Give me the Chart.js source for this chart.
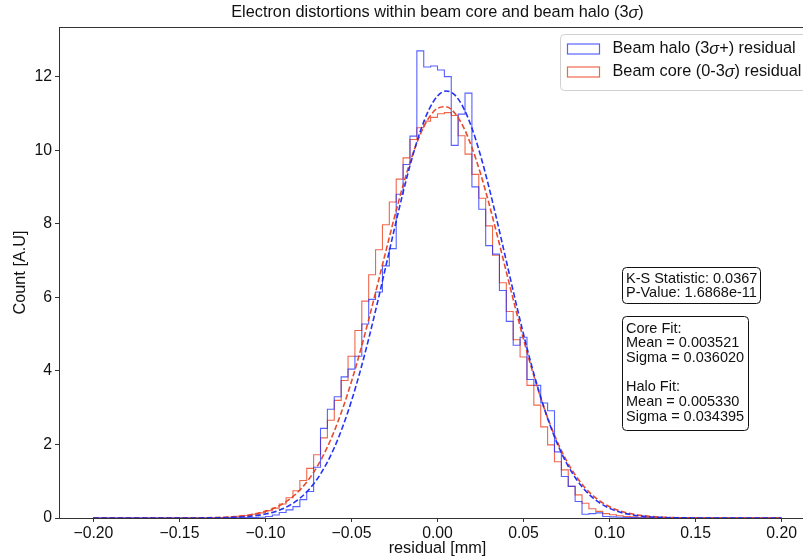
<!DOCTYPE html>
<html>
<head>
<meta charset="utf-8">
<script src="https://cdn.jsdelivr.net/npm/chart.js@4.4.1/dist/chart.umd.min.js"></script>
<style>
  html, body { margin: 0; padding: 0; background: #fff; overflow: hidden; }
  #wrap { width: 820px; height: 558px; }
</style>
</head>
<body>
<div id="wrap"><canvas id="chart" width="820" height="558"></canvas></div>
<script>
// Histogram bins (density), width 0.004, first left edge at -0.132
const binStart = -0.132;
const binWidth = 0.004;

const haloCounts = [
  0, 0, 0.002, 0.003, 0.005, 0.007, 0.010, 0.015, 0.020, 0.04,
  0.08, 0.15, 0.22, 0.31, 0.50, 0.72, 1.38, 2.44, 2.96, 3.30,
  3.84, 4.05, 4.40, 5.28, 5.95, 6.15, 6.86, 7.33, 8.81, 9.62,
  10.39, 12.71, 12.27, 12.30, 12.19, 12.01, 10.14, 10.99, 11.56, 9.01,
  8.40, 7.41, 7.18, 6.19, 5.35, 4.70, 4.92, 3.77, 3.61, 3.13,
  2.92, 1.80, 1.13, 0.86, 0.45, 0.10, 0.12, 0.14, 0.04, 0.03,
  0.02, 0.01, 0.01, 0.005, 0, 0
];

const coreCounts = [
  0.005, 0.008, 0.012, 0.02, 0.03, 0.05, 0.07, 0.10, 0.14, 0.20,
  0.27, 0.38, 0.55, 0.74, 1.02, 1.35, 1.72, 2.18, 2.66, 3.20,
  3.74, 4.40, 5.10, 5.90, 6.62, 7.30, 7.98, 8.60, 9.22, 9.80,
  10.30, 10.62, 10.80, 10.90, 11.00, 11.03, 10.95, 10.40, 9.90, 9.35,
  8.70, 7.95, 7.15, 6.40, 5.62, 4.85, 4.38, 3.61, 3.07, 2.48,
  1.99, 1.53, 1.31, 0.86, 0.63, 0.40, 0.25, 0.18, 0.12, 0.09,
  0.06, 0.04, 0.03, 0.02, 0.01, 0.01
];

// Gaussian fit curves
const fitX = [
  -0.20, -0.19, -0.18, -0.17, -0.16, -0.15, -0.14, -0.13, -0.12, -0.11,
  -0.100, -0.095, -0.090, -0.085, -0.080, -0.075, -0.070, -0.065, -0.060, -0.055,
  -0.050, -0.045, -0.040, -0.035, -0.030, -0.025, -0.020, -0.015, -0.010, -0.005,
  0.000, 0.005, 0.010, 0.015, 0.020, 0.025, 0.030, 0.035, 0.040, 0.045,
  0.050, 0.055, 0.060, 0.065, 0.070, 0.075, 0.080, 0.085, 0.090, 0.095,
  0.100, 0.105,
  0.11, 0.12, 0.13, 0.14, 0.15, 0.16, 0.17, 0.18, 0.19, 0.20
];

const haloFit = [
  0, 0, 0, 0.00002, 0.0001, 0.0004, 0.0015, 0.005, 0.015, 0.042,
  0.107, 0.165, 0.249, 0.370, 0.536, 0.760, 1.056, 1.436, 1.912, 2.496,
  3.186, 3.983, 4.875, 5.842, 6.856, 7.877, 8.860, 9.757, 10.522, 11.108,
  11.481, 11.62, 11.513, 11.169, 10.609, 9.868, 8.984, 8.010, 6.992, 5.975,
  5.000, 4.096, 3.286, 2.581, 1.983, 1.493, 1.101, 0.795, 0.561, 0.389,
  0.263, 0.174,
  0.113, 0.045, 0.016, 0.005, 0.0015, 0.0004, 0.0001, 0, 0, 0
];

const coreFit = [
  0, 0.00001, 0.00003, 0.0001, 0.0004, 0.0013, 0.004, 0.0115, 0.031, 0.078,
  0.180, 0.265, 0.384, 0.546, 0.760, 1.039, 1.394, 1.833, 2.363, 2.991,
  3.713, 4.520, 5.398, 6.322, 7.265, 8.187, 9.052, 9.815, 10.440, 10.892,
  11.147, 11.190, 11.018, 10.643, 10.083, 9.371, 8.542, 7.637, 6.700, 5.764,
  4.864, 4.025, 3.268, 2.603, 2.034, 1.558, 1.172, 0.864, 0.625, 0.443,
  0.308, 0.210,
  0.141, 0.060, 0.023, 0.0085, 0.0028, 0.0008, 0.0002, 0.00005, 0.00001, 0
];

const xTicks = [-0.20, -0.15, -0.10, -0.05, 0.00, 0.05, 0.10, 0.15, 0.20];
const yTicks = [0, 2, 4, 6, 8, 10, 12];

const ksLines = ['K-S Statistic: 0.0367', 'P-Value: 1.6868e-11'];
const fitLines = ['Core Fit:', 'Mean = 0.003521', 'Sigma = 0.036020', '', 'Halo Fit:', 'Mean = 0.005330', 'Sigma = 0.034395'];

const FONT = '"Liberation Sans", Arial, Helvetica, sans-serif';
const TXT = '#111';
const HALO = 'rgba(30,45,255,0.75)';
const CORE = 'rgba(235,65,30,0.8)';

function stepPoints(counts) {
  const pts = [{ x: -0.2, y: 0 }];
  counts.forEach((c, i) => pts.push({ x: +(binStart + i * binWidth).toFixed(3), y: c }));
  pts.push({ x: +(binStart + counts.length * binWidth).toFixed(3), y: 0 });
  pts.push({ x: 0.2, y: 0 });
  return pts;
}

function curvePoints(ys) {
  return fitX.map((x, i) => ({ x: x, y: ys[i] }));
}

// draw text where the sigma is italic
function richText(ctx, str, x, y, size, align) {
  const parts = str.split(/(σ)/).filter(p => p.length);
  const fontOf = p => (p === 'σ' ? 'italic ' : '') + size + 'px ' + FONT;
  let total = 0;
  parts.forEach(p => { ctx.font = fontOf(p); total += ctx.measureText(p).width; });
  let cx = align === 'center' ? x - total / 2 : x;
  ctx.textAlign = 'left';
  parts.forEach(p => {
    ctx.font = fontOf(p);
    ctx.fillText(p, cx, y);
    cx += ctx.measureText(p).width;
  });
}

function roundBox(ctx, x, y, w, h, r) {
  ctx.beginPath();
  ctx.moveTo(x + r, y);
  ctx.lineTo(x + w - r, y);
  ctx.arcTo(x + w, y, x + w, y + r, r);
  ctx.lineTo(x + w, y + h - r);
  ctx.arcTo(x + w, y + h, x + w - r, y + h, r);
  ctx.lineTo(x + r, y + h);
  ctx.arcTo(x, y + h, x, y + h - r, r);
  ctx.lineTo(x, y + r);
  ctx.arcTo(x, y, x + r, y, r);
  ctx.closePath();
}

const decorations = {
  id: 'decorations',
  afterDraw(chart) {
    const ctx = chart.ctx;
    const a = chart.chartArea;
    ctx.save();

    // axes frame
    ctx.strokeStyle = '#333';
    ctx.lineWidth = 1;
    ctx.strokeRect(a.left + 0.5, a.top + 0.5, a.right - a.left, a.bottom - a.top);

    ctx.fillStyle = TXT;
    ctx.textBaseline = 'middle';

    // title
    richText(ctx, 'Electron distortions within beam core and beam halo (3σ)', (a.left + a.right) / 2, 13, 16.3, 'center');

    // axis labels
    ctx.font = '16.3px ' + FONT;
    ctx.textAlign = 'center';
    ctx.fillText('residual [mm]', (a.left + a.right) / 2, 549);
    ctx.save();
    ctx.translate(21, (a.top + a.bottom) / 2);
    ctx.rotate(-Math.PI / 2);
    ctx.fillText('Count [A.U]', 0, 0);
    ctx.restore();

    // legend
    roundBox(ctx, 560.5, 34.5, 252, 56, 4);
    ctx.fillStyle = 'rgba(255,255,255,0.85)';
    ctx.fill();
    ctx.strokeStyle = '#d0d0d0';
    ctx.stroke();
    const legend = [
      { label: 'Beam halo (3σ+) residual', color: HALO, y: 49 },
      { label: 'Beam core (0-3σ) residual', color: CORE, y: 72 }
    ];
    legend.forEach(item => {
      ctx.strokeStyle = item.color;
      ctx.lineWidth = 1.2;
      ctx.strokeRect(567.5, item.y - 5, 32, 10);
      ctx.fillStyle = TXT;
      richText(ctx, item.label, 612.5, item.y, 16.3, 'left');
    });

    // statistic boxes
    ctx.strokeStyle = '#111';
    ctx.lineWidth = 1;
    roundBox(ctx, 622.5, 267.5, 138, 36, 4);
    ctx.fillStyle = '#fff';
    ctx.fill();
    ctx.stroke();
    roundBox(ctx, 622.5, 316.5, 126, 114, 4);
    ctx.fill();
    ctx.stroke();

    ctx.fillStyle = TXT;
    ctx.font = '14.5px ' + FONT;
    ctx.textAlign = 'left';
    ksLines.forEach((t, i) => ctx.fillText(t, 626, 278.5 + i * 14.7));
    fitLines.forEach((t, i) => { if (t) ctx.fillText(t, 626, 328.5 + i * 14.7); });

    ctx.restore();
  }
};

new Chart(document.getElementById('chart'), {
  type: 'line',
  data: {
    datasets: [
      {
        label: 'Halo fit',
        data: curvePoints(haloFit),
        borderColor: 'rgba(25,40,245,0.95)',
        borderWidth: 1.6,
        borderDash: [5.5, 2.6],
        pointRadius: 0,
        cubicInterpolationMode: 'monotone',
        fill: false
      },
      {
        label: 'Core fit',
        data: curvePoints(coreFit),
        borderColor: 'rgba(230,65,35,0.95)',
        borderWidth: 1.6,
        borderDash: [5.5, 2.6],
        pointRadius: 0,
        cubicInterpolationMode: 'monotone',
        fill: false
      },
      {
        label: 'Beam halo (3σ+) residual',
        data: stepPoints(haloCounts),
        borderColor: HALO,
        borderWidth: 1.1,
        stepped: 'after',
        pointRadius: 0,
        fill: false
      },
      {
        label: 'Beam core (0-3σ) residual',
        data: stepPoints(coreCounts),
        borderColor: CORE,
        borderWidth: 1.1,
        stepped: 'after',
        pointRadius: 0,
        fill: false
      }
    ]
  },
  options: {
    responsive: false,
    animation: false,
    layout: { padding: { top: 27, right: 4, left: 0, bottom: 0 } },
    plugins: {
      legend: { display: false },
      title: { display: false },
      tooltip: { enabled: false }
    },
    scales: {
      x: {
        type: 'linear',
        min: -0.22,
        max: 0.22,
        afterBuildTicks: s => { s.ticks = xTicks.map(v => ({ value: v })); },
        afterFit: s => { s.height = 40; },
        border: { display: false },
        grid: { drawOnChartArea: false, drawTicks: true, tickLength: 4, color: '#333' },
        ticks: {
          autoSkip: false,
          maxRotation: 0,
          padding: 2,
          color: TXT,
          font: { family: FONT, size: 15.8 },
          callback: v => v.toFixed(2).replace('-', '\u2212')
        }
      },
      y: {
        min: 0,
        max: 13.36,
        afterBuildTicks: s => { s.ticks = yTicks.map(v => ({ value: v })); },
        afterFit: s => { s.width = 59; },
        border: { display: false },
        grid: { drawOnChartArea: false, drawTicks: true, tickLength: 4, color: '#333' },
        ticks: {
          padding: 3,
          color: TXT,
          font: { family: FONT, size: 15.8 }
        }
      }
    }
  },
  plugins: [decorations]
});
</script>
</body>
</html>
